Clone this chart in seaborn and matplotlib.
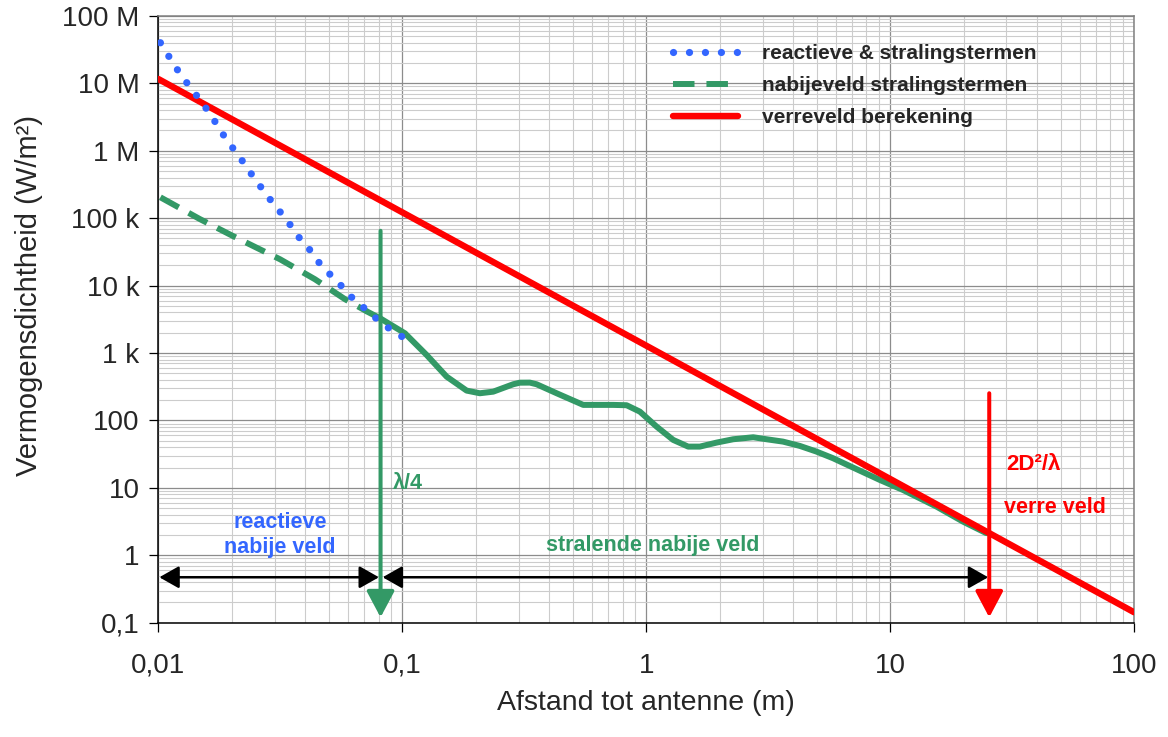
import matplotlib
matplotlib.use("Agg")
import matplotlib.pyplot as plt
from matplotlib.ticker import FixedLocator, FixedFormatter, LogLocator, NullFormatter
import seaborn as sns

# ---- data -------------------------------------------------------------
# reactive + radiating terms (near antenna)
blue_x = [0.0102, 0.0113, 0.0123, 0.0135, 0.0147, 0.0159, 0.0172, 0.0186, 0.0202,
          0.0218, 0.0236, 0.0254, 0.0276, 0.0301, 0.0337, 0.0370, 0.0409, 0.0439,
          0.0479, 0.0521, 0.0559, 0.0601, 0.0665, 0.0721, 0.0919, 0.1043]
blue_y = [40e6, 22e6, 13.7e6, 8.8e6, 5.9e6, 4.0e6, 2.6e6, 1.66e6, 1.10e6,
          7.6e5, 5.0e5, 3.45e5, 2.3e5, 1.52e5, 9.4e4, 5.6e4, 3.8e4, 2.6e4,
          1.76e4, 1.33e4, 1.02e4, 7.3e3, 5.6e3, 4.1e3, 2.07e3, 1.6e3]

# near-field radiating terms (dashed part)
green_dash_x = [0.0102, 0.0148, 0.0203, 0.0316, 0.0439, 0.0582, 0.072]
green_dash_y = [2.04e5, 9.7e4, 5.4e4, 2.45e4, 1.24e4, 6.3e3, 4.1e3]

# near-field radiating terms (computed part)
green_x = [0.072, 0.0811, 0.1026, 0.1259, 0.1521, 0.1837, 0.2081, 0.236, 0.2851,
           0.3033, 0.3336, 0.3555, 0.4296, 0.5521, 0.7328, 0.8317, 0.9426, 1.104,
           1.291, 1.487, 1.660, 1.944, 2.275, 2.748, 3.115, 3.642, 4.265, 4.993,
           5.839, 6.833, 9.08, 11.3, 15.5, 19.9, 24.8]
green_y = [4.1e3, 3.28e3, 1.96e3, 935, 446, 277, 253, 267, 344,
           363, 364, 344, 253, 170, 170, 168, 135, 80.9,
           51.4, 40.9, 40.9, 46.9, 52.6, 56.3, 52.6, 48.5, 41.9, 34.5,
           27.5, 21.1, 13.1, 9.3, 5.27, 3.16, 2.13]

# far-field calculation
red_x = [0.01, 100]
red_y = [1.16e7, 0.143]

# region boundaries (m) and arrow extents (W/m2)
lambda_quarter = 0.0815
far_field_dist = 25.5
green_arrow_top = 6.5e4
red_arrow_top = 253
arrow_bottom = 0.12
range_y = 0.472

y_ticks = [0.1, 1, 10, 100, 1e3, 1e4, 1e5, 1e6, 1e7, 1e8]
y_labels = ["0,1", "1", "10", "100", "1 k", "10 k", "100 k", "1 M", "10 M", "100 M"]
x_ticks = [0.01, 0.1, 1, 10, 100]
x_labels = ["0,01", "0,1", "1", "10", "100"]

label_blue = "reactieve & stralingstermen"
label_green = "nabijeveld stralingstermen"
label_red = "verreveld berekening"

BLUE = "#3366FF"
GREEN = "#339966"
RED = "#FF0000"

# ---- style ------------------------------------------------------------
sns.set_theme(style="white")
plt.rcParams["font.family"] = ["Liberation Sans", "DejaVu Sans"]

fig = plt.figure(figsize=(11.68, 7.37), dpi=100)
ax = fig.add_axes([158.3 / 1168, 1 - 622.7 / 737, (1134 - 158.3) / 1168, (622.7 - 15.9) / 737])
ax.set_xscale("log")
ax.set_yscale("log")

sns.lineplot(x=green_x, y=green_y, ax=ax, color=GREEN, lw=4.3, zorder=3,
             solid_capstyle="round", solid_joinstyle="round")
sns.lineplot(x=green_dash_x, y=green_dash_y, ax=ax, color=GREEN, lw=4.3, zorder=3,
             linestyle=(0, (3.5, 1.9)), label=label_green)
sns.lineplot(x=red_x, y=red_y, ax=ax, color=RED, lw=4.6, zorder=4, label=label_red)
sns.lineplot(x=blue_x, y=blue_y, ax=ax, color=BLUE, lw=5.2, zorder=5,
             linestyle=(0, (0.01, 2.2)), dash_capstyle="round", label=label_blue)

ax.set_xlim(0.01, 100)
ax.set_ylim(0.1, 1e8)

# ---- grid & axes -------------------------------------------------------
ax.xaxis.set_major_locator(FixedLocator(x_ticks))
ax.xaxis.set_major_formatter(FixedFormatter(x_labels))
ax.yaxis.set_major_locator(FixedLocator(y_ticks))
ax.yaxis.set_major_formatter(FixedFormatter(y_labels))
ax.xaxis.set_minor_locator(LogLocator(base=10, subs=range(2, 10), numticks=50))
ax.yaxis.set_minor_locator(LogLocator(base=10, subs=range(2, 10), numticks=50))
ax.xaxis.set_minor_formatter(NullFormatter())
ax.yaxis.set_minor_formatter(NullFormatter())

ax.grid(which="major", color="#8c8c8c", lw=0.9, zorder=0)
ax.grid(which="minor", color="#cccccc", lw=0.8, zorder=0)
ax.set_axisbelow(True)

for side in ("left", "bottom"):
    ax.spines[side].set_color("black")
    ax.spines[side].set_linewidth(1.1)
for side in ("top", "right"):
    ax.spines[side].set_color("#808080")
    ax.spines[side].set_linewidth(1.1)

ax.tick_params(which="major", direction="out", length=6.5, width=0.9, color="black",
               labelsize=20, left=True, bottom=True)
ax.tick_params(axis="x", which="major", pad=15)
ax.tick_params(axis="y", which="major", pad=7)
ax.tick_params(which="minor", length=0)

ax.set_xlabel("Afstand tot antenne (m)", fontsize=20.5, labelpad=8)
ax.set_ylabel("Vermogensdichtheid (W/m²)", fontsize=21, labelpad=10)
ax.yaxis.set_label_coords(-0.118, 0.54)

# ---- arrows -------------------------------------------------------------
def arrow(x0, y0, x1, y1, color, lw, style):
    ax.annotate("", xy=(x1, y1), xytext=(x0, y0),
                arrowprops=dict(arrowstyle=style, color=color, lw=lw,
                                shrinkA=0, shrinkB=0, mutation_scale=10),
                zorder=6)

head_v = "-|>,head_length=1.6,head_width=0.85"
arrow(lambda_quarter, green_arrow_top, lambda_quarter, arrow_bottom, GREEN, 2.9, head_v)
arrow(far_field_dist, red_arrow_top, far_field_dist, arrow_bottom, RED, 2.9, head_v)

head_h = "<|-|>,head_length=1.2,head_width=0.68"
arrow(0.0101, range_y, lambda_quarter * 0.985, range_y, "black", 1.8, head_h)
arrow(lambda_quarter * 1.02, range_y, far_field_dist * 0.99, range_y, "black", 1.8, head_h)

# ---- region labels ------------------------------------------------------
ax.text(0.0315, 2.0, "reactieve\nnabije veld", color=BLUE, fontsize=15.5, fontweight="bold",
        ha="center", va="center", linespacing=1.3, zorder=7)
ax.text(0.0914, 11.8, "λ/4", color=GREEN, fontsize=15.5, fontweight="bold",
        ha="left", va="center", zorder=7)
ax.text(1.06, 1.42, "stralende nabije veld", color=GREEN, fontsize=15.5, fontweight="bold",
        ha="center", va="center", zorder=7)
ax.text(30, 21.9, "2D²/λ", color=RED, fontsize=16, fontweight="bold",
        ha="left", va="center", zorder=7)
ax.text(29.3, 5.05, "verre veld", color=RED, fontsize=15.5, fontweight="bold",
        ha="left", va="center", zorder=7)

# ---- legend -------------------------------------------------------------
handles, labels = ax.get_legend_handles_labels()
order = [labels.index(label_blue), labels.index(label_green), labels.index(label_red)]
leg = ax.legend([handles[i] for i in order], [labels[i] for i in order],
                loc="upper left", bbox_to_anchor=(673 / 1168, 1 - 44 / 737),
                bbox_transform=fig.transFigure, frameon=False,
                prop={"size": 15, "weight": "bold"},
                handlelength=3.1, handletextpad=1.15, labelspacing=0.62,
                borderpad=0, borderaxespad=0)
# two full dashes in the legend sample of the dashed series
leg.get_lines()[1].set_dashes((3.6, 2.0))
leg.get_lines()[1].set_dash_capstyle("butt")

fig.savefig("out.png", dpi=100)
